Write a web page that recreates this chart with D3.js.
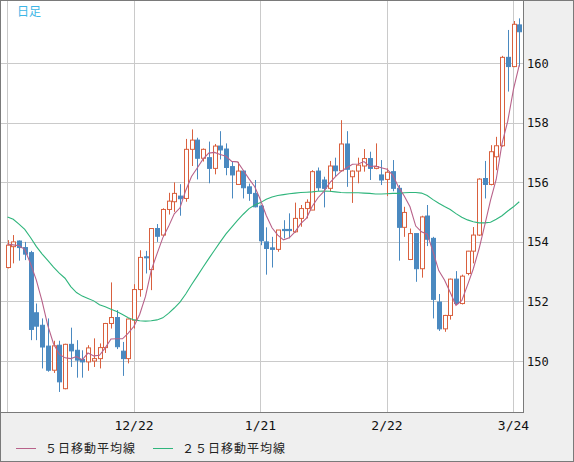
<!DOCTYPE html>
<html>
<head>
<meta charset="utf-8">
<script src="https://cdn.jsdelivr.net/npm/d3@7"></script>
<style>
  body { margin: 0; background: #fff; }
  text { font-family: "DejaVu Sans Mono", monospace; }
</style>
</head>
<body>
<script>
"use strict";

let width = 574;
let height = 462;

// daily candles (index 0 = left edge)
let opens = [153.14, 153.84, 154.03, 153.81, 153.64, 151.62, 151.20, 150.50, 149.69, 150.53,
  149.07, 150.56, 150.36, 150.05, 149.97, 150.00, 150.08, 150.45, 151.26, 151.46,
  150.33, 150.08, 151.37, 152.40, 153.50, 153.07, 154.45, 154.23, 155.09, 155.35,
  155.54, 155.46, 157.11, 157.42, 156.81, 156.83, 156.47, 157.22, 157.12, 156.53,
  155.93, 156.38, 155.85, 155.63, 155.20, 154.00, 153.80, 153.75, 154.42, 154.42,
  154.34, 154.79, 155.12, 155.07, 156.38, 156.08, 155.80, 156.55, 156.39, 157.29,
  156.19, 156.38, 156.55, 156.80, 156.47, 156.25, 156.10, 156.36, 155.80, 154.49,
  153.41, 154.28, 153.10, 154.87, 154.12, 151.98, 151.08, 151.53, 152.75, 151.93,
  152.94, 153.69, 154.23, 156.13, 155.93, 156.86, 157.23, 160.20, 159.89, 161.29];
let highs = [154.06, 154.23, 154.05, 154.00, 153.70, 151.93, 151.43, 151.43, 150.68, 150.68,
  150.58, 151.12, 150.70, 150.36, 150.53, 150.76, 150.59, 151.28, 152.64, 151.71,
  150.64, 151.43, 152.58, 153.72, 153.70, 154.46, 154.60, 155.13, 155.65, 156.00,
  155.94, 157.46, 157.78, 157.50, 157.14, 157.37, 157.29, 157.72, 157.31, 156.69,
  156.69, 156.40, 155.96, 156.08, 155.24, 154.49, 154.17, 154.40, 154.73, 154.96,
  155.32, 155.24, 155.43, 156.41, 156.50, 156.19, 156.72, 156.83, 158.09, 157.72,
  156.40, 156.83, 157.12, 157.03, 157.31, 156.75, 156.47, 156.75, 155.91, 155.18,
  154.45, 154.28, 154.88, 155.24, 154.17, 152.25, 151.55, 152.77, 153.02, 152.90,
  153.70, 154.50, 156.14, 156.72, 157.25, 157.53, 160.25, 161.12, 161.42, 161.51];
let lows = [153.11, 153.28, 153.37, 153.39, 150.70, 150.70, 149.75, 149.64, 149.60, 148.96,
  149.05, 149.80, 149.44, 149.44, 149.67, 149.80, 149.75, 150.27, 151.09, 150.40,
  149.50, 149.92, 151.09, 152.16, 152.94, 152.38, 154.00, 154.17, 154.92, 155.01,
  154.88, 155.35, 156.55, 156.10, 156.70, 155.97, 156.27, 156.77, 156.24, 155.46,
  155.93, 155.46, 155.38, 155.16, 153.89, 152.90, 153.14, 153.67, 154.12, 154.12,
  154.31, 154.51, 154.79, 155.07, 155.71, 155.16, 155.69, 156.21, 156.36, 155.85,
  155.31, 155.97, 156.36, 156.08, 156.44, 155.91, 155.54, 155.70, 153.37, 154.17,
  153.39, 152.66, 152.80, 153.86, 151.43, 151.01, 150.98, 151.39, 151.91, 151.90,
  152.88, 153.28, 154.20, 155.46, 155.90, 156.41, 157.20, 159.05, 159.87, 159.89];
let closes = [153.89, 154.00, 153.81, 153.59, 151.06, 151.17, 150.47, 149.69, 150.51, 149.30,
  150.56, 150.34, 150.03, 149.97, 150.44, 150.08, 150.45, 151.26, 151.46, 150.48,
  150.08, 151.41, 152.40, 153.48, 153.47, 154.45, 154.19, 155.09, 155.37, 155.63,
  155.45, 157.11, 157.42, 156.81, 157.11, 156.47, 157.22, 157.09, 156.50, 156.25,
  156.38, 155.82, 155.63, 155.18, 154.04, 153.78, 153.75, 154.40, 154.38, 154.38,
  154.79, 155.12, 155.33, 156.36, 155.82, 155.80, 156.55, 156.39, 157.29, 156.44,
  156.38, 156.58, 156.80, 156.47, 156.53, 156.08, 156.34, 155.80, 154.49, 154.99,
  154.28, 153.10, 154.84, 154.09, 152.07, 151.08, 151.53, 152.75, 151.93, 152.85,
  153.69, 154.23, 156.11, 155.93, 157.03, 157.23, 160.20, 159.89, 161.31, 161.06];

// first four 5-day average values (earlier closes are off the chart)
let ma5Head = [153.93, 153.90, 153.87, 153.75];

// 25-day average
let ma25 = [154.84, 154.76, 154.60, 154.42, 154.15, 153.85, 153.60, 153.38, 153.15, 152.95,
  152.78, 152.50, 152.30, 152.18, 152.10, 152.02, 151.89, 151.82, 151.74, 151.66,
  151.56, 151.45, 151.38, 151.35, 151.34, 151.35, 151.38, 151.45, 151.60, 151.78,
  151.98, 152.25, 152.56, 152.85, 153.15, 153.44, 153.72, 154.00, 154.27, 154.50,
  154.72, 154.93, 155.12, 155.24, 155.32, 155.43, 155.51, 155.56, 155.59, 155.62,
  155.64, 155.66, 155.67, 155.68, 155.70, 155.71, 155.70, 155.68, 155.66, 155.65,
  155.65, 155.65, 155.64, 155.63, 155.61, 155.61, 155.62, 155.63, 155.63, 155.65,
  155.66, 155.66, 155.64, 155.56, 155.42, 155.30, 155.19, 155.09, 154.95, 154.83,
  154.74, 154.68, 154.64, 154.64, 154.66, 154.76, 154.88, 155.04, 155.18, 155.35];

let gridIdx = [0, 22, 44, 66, 88];
let gridLabels = ["", "12/22", "1/21", "2/22", "3/24"];
let priceTicks = [150, 152, 154, 156, 158, 160];

let ma5 = closes.map(function (c, i) {
  if (i < 4) return ma5Head[i];
  return d3.mean(closes.slice(i - 4, i + 1));
});

let plotRight = 523;
let plotBottom = 412;

let x = d3.scaleLinear().domain([0, 88]).range([7.5, 513.5]);
let y = d3.scaleLinear().domain([150, 160]).range([361, 63.3]);

let upColor = "#d9603e";
let downColor = "#4a89c0";
let ma5Color = "#b8628a";
let ma25Color = "#2fb57c";
let gridColor = "#cacaca";

let svg = d3.select("body").append("svg").attr("width", width).attr("height", height);

svg.append("rect")
  .attr("x", 0.5).attr("y", 0.5)
  .attr("width", width - 1).attr("height", height - 1)
  .attr("fill", "#efefef")
  .attr("stroke", "#7a7a7a");

svg.append("rect")
  .attr("x", 1).attr("y", 1)
  .attr("width", plotRight - 1).attr("height", plotBottom - 1)
  .attr("fill", "#fff");

svg.append("clipPath").attr("id", "plot")
  .append("rect")
  .attr("x", 1).attr("y", 1)
  .attr("width", plotRight - 1).attr("height", plotBottom - 1);

// grid
let grid = svg.append("g");
grid.selectAll(".hg")
  .data(priceTicks)
  .enter()
  .append("line")
  .attr("x1", 1).attr("x2", plotRight)
  .attr("y1", function (d) { return Math.round(y(d)) + 0.5; })
  .attr("y2", function (d) { return Math.round(y(d)) + 0.5; })
  .attr("stroke", gridColor);
grid.selectAll(".vg")
  .data(gridIdx)
  .enter()
  .append("line")
  .attr("x1", function (d) { return Math.floor(x(d)) + 0.5; })
  .attr("x2", function (d) { return Math.floor(x(d)) + 0.5; })
  .attr("y1", 1).attr("y2", plotBottom)
  .attr("stroke", gridColor);

// candles
let candles = svg.append("g").attr("clip-path", "url(#plot)");
let idx = d3.range(closes.length);

candles.selectAll(".wick")
  .data(idx)
  .enter()
  .append("line")
  .attr("x1", function (i) { return Math.round(x(i)) + 0.5; })
  .attr("x2", function (i) { return Math.round(x(i)) + 0.5; })
  .attr("y1", function (i) { return y(highs[i]); })
  .attr("y2", function (i) { return y(lows[i]); })
  .attr("stroke", function (i) { return closes[i] >= opens[i] ? upColor : downColor; })
  .attr("stroke-width", 1);

candles.selectAll(".body")
  .data(idx)
  .enter()
  .append("rect")
  .attr("x", function (i) { return Math.round(x(i)) - 1.5; })
  .attr("width", 4)
  .attr("y", function (i) { return y(Math.max(opens[i], closes[i])); })
  .attr("height", function (i) { return Math.max(1, Math.abs(y(opens[i]) - y(closes[i]))); })
  .attr("fill", function (i) { return closes[i] >= opens[i] ? "#fff" : downColor; })
  .attr("stroke", function (i) { return closes[i] >= opens[i] ? upColor : downColor; })
  .attr("stroke-width", 1);

// moving averages
let line = d3.line()
  .x(function (d, i) { return x(i); })
  .y(function (d) { return y(d); });

candles.append("path")
  .attr("d", line(ma25))
  .attr("fill", "none")
  .attr("stroke", ma25Color)
  .attr("stroke-width", 1.1);

candles.append("path")
  .attr("d", line(ma5))
  .attr("fill", "none")
  .attr("stroke", ma5Color)
  .attr("stroke-width", 1.1);

// frame of plot
svg.append("line")
  .attr("x1", plotRight + 0.5).attr("x2", plotRight + 0.5)
  .attr("y1", 0).attr("y2", plotBottom + 1)
  .attr("stroke", "#7a7a7a");
svg.append("line")
  .attr("x1", 0).attr("x2", plotRight + 1)
  .attr("y1", plotBottom + 0.5).attr("y2", plotBottom + 0.5)
  .attr("stroke", "#7a7a7a");

// price labels
svg.selectAll(".pl")
  .data(priceTicks)
  .enter()
  .append("text")
  .attr("x", 527)
  .attr("y", function (d) { return y(d) + 4.5; })
  .style("font-size", "12px")
  .attr("fill", "#111")
  .text(function (d) { return d; });

// date labels
svg.selectAll(".dl")
  .data(gridIdx)
  .enter()
  .append("text")
  .attr("x", function (d) { return x(d); })
  .attr("y", 430)
  .attr("text-anchor", "middle")
  .style("font-size", "13px")
  .attr("fill", "#111")
  .text(function (d, i) { return gridLabels[i]; });

svg.append("text")
  .attr("x", 17)
  .attr("y", 16)
  .style("font-family", "'Noto Sans CJK JP'")
  .style("font-size", "12px")
  .attr("fill", "#3db6e6")
  .text("日足");

// legend
let legend = [
  { label: "５日移動平均線", color: ma5Color, x: 16 },
  { label: "２５日移動平均線", color: ma25Color, x: 153 }
];
let lg = svg.selectAll(".lg")
  .data(legend)
  .enter()
  .append("g");
lg.append("line")
  .attr("x1", function (d) { return d.x; })
  .attr("x2", function (d) { return d.x + 20; })
  .attr("y1", 448.5).attr("y2", 448.5)
  .attr("stroke", function (d) { return d.color; });
lg.append("text")
  .attr("x", function (d) { return d.x + 29; })
  .attr("y", 453)
  .style("font-family", "'Noto Sans CJK JP'")
  .style("font-size", "12px")
  .style("letter-spacing", "1px")
  .attr("fill", "#222")
  .text(function (d) { return d.label; });
</script>
</body>
</html>
